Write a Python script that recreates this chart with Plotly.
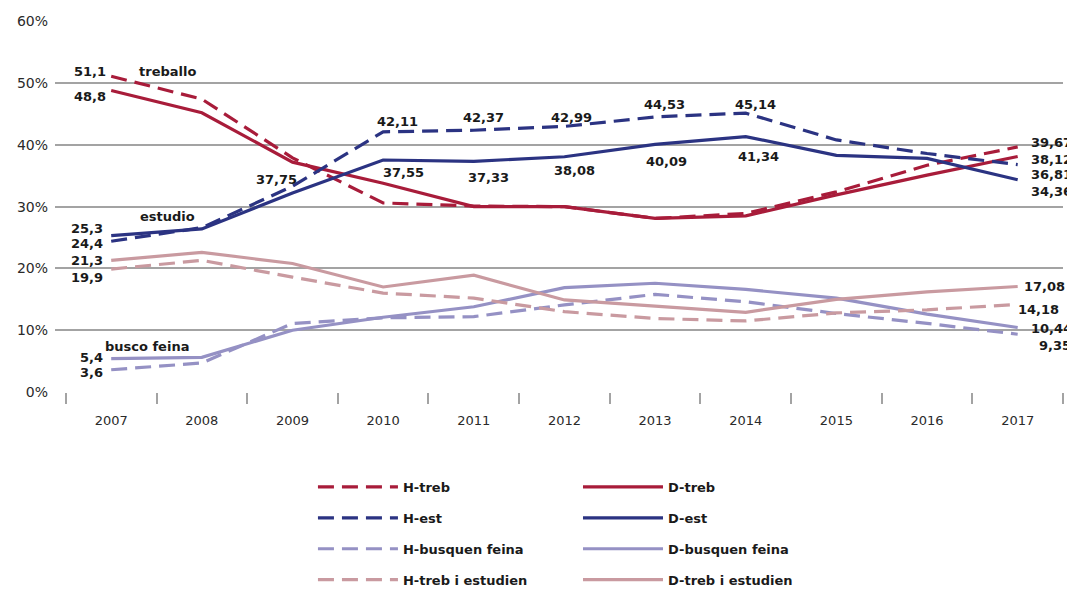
import plotly.graph_objects as go

years = ["2007", "2008", "2009", "2010", "2011", "2012", "2013", "2014", "2015", "2016", "2017"]
h_treb = [51.1, 47.4, 37.9, 30.6, 30.1, 30.0, 28.1, 28.9, 32.4, 36.7, 39.67]
d_treb = [48.8, 45.2, 37.2, 33.8, 30.0, 30.0, 28.1, 28.5, 31.9, 35.1, 38.12]
h_est = [24.4, 26.6, 33.3, 42.11, 42.37, 42.99, 44.53, 45.14, 40.8, 38.6, 36.81]
d_est = [25.3, 26.4, 32.2, 37.55, 37.33, 38.08, 40.09, 41.34, 38.3, 37.8, 34.36]
h_bus = [3.6, 4.7, 11.1, 12.0, 12.2, 14.1, 15.8, 14.6, 12.7, 11.1, 9.35]
d_bus = [5.4, 5.6, 10.0, 12.1, 13.8, 16.9, 17.6, 16.6, 15.2, 12.6, 10.44]
h_te = [19.9, 21.3, 18.6, 16.0, 15.2, 13.0, 11.9, 11.5, 12.8, 13.3, 14.18]
d_te = [21.3, 22.6, 20.8, 17.0, 18.9, 14.9, 13.9, 12.9, 15.0, 16.2, 17.08]
y_ticks = [0, 10, 20, 30, 40, 50, 60]
y_tick_text = ["0%", "10%", "20%", "30%", "40%", "50%", "60%"]

RED = "#a81c3a"
NAVY = "#2b3382"
LAV = "#9591c4"
PINK = "#c99aa0"
DASH = "16px,8px"

xs = list(range(len(years)))

series = [
    ("H-treb", h_treb, RED, DASH, "legend"),
    ("D-treb", d_treb, RED, "solid", "legend2"),
    ("H-est", h_est, NAVY, DASH, "legend"),
    ("D-est", d_est, NAVY, "solid", "legend2"),
    ("H-busquen feina", h_bus, LAV, DASH, "legend"),
    ("D-busquen feina", d_bus, LAV, "solid", "legend2"),
    ("H-treb i estudien", h_te, PINK, DASH, "legend"),
    ("D-treb i estudien", d_te, PINK, "solid", "legend2"),
]

fig = go.Figure()
for name, vals, col, dash, leg in series:
    fig.add_trace(go.Scatter(
        x=xs, y=vals, name=name, mode="lines",
        line=dict(color=col, width=3.2, dash=dash),
        legend=leg, legendgroup=name, hoverinfo="skip",
    ))

def fmt(v):
    return ("%g" % v).replace(".", ",")

LBL = dict(family="DejaVu Sans, sans-serif", size=13, color="#1a1a1a", weight="bold")

# (value source, index, xanchor, xshift, yshift)
labels = [
    (h_treb, 0, "right", -3, 5), (d_treb, 0, "right", -3, -6),
    (d_est, 0, "right", -6, 7.5), (h_est, 0, "right", -6, -2),
    (d_te, 0, "right", -6, 0), (h_te, 0, "right", -6, -8),
    (d_bus, 0, "right", -6, 1.5), (h_bus, 0, "right", -6, -3),
    (h_est, 3, "center", 14, 10.5), (h_est, 4, "center", 10, 13),
    (h_est, 5, "center", 7, 9), (h_est, 6, "center", 9, 12.7),
    (h_est, 7, "center", 10, 9),
    (d_est, 3, "center", 20, -12), (d_est, 4, "center", 15, -16),
    (d_est, 5, "center", 10, -13.5), (d_est, 6, "center", 11, -17),
    (d_est, 7, "center", 13, -20),
    (h_treb, 10, "left", 11, 4), (d_treb, 10, "left", 11, -3),
    (h_est, 10, "left", 11, -9.6), (d_est, 10, "left", 11, -11.4),
    (d_te, 10, "left", 4, 0), (h_te, 10, "left", -2, -5),
    (d_bus, 10, "left", 11, -1), (h_bus, 10, "left", 19, -11),
]
annotations = []
for src, i, xa, xsh, ysh in labels:
    annotations.append(dict(x=xs[i], y=src[i], text=fmt(src[i]), showarrow=False,
                            xanchor=xa, yanchor="middle", xshift=xsh, yshift=ysh, font=LBL))

extra_value = 37.75
annotations.append(dict(x=xs[2], y=extra_value, text=fmt(extra_value), showarrow=False,
                        xanchor="center", yanchor="middle", xshift=-16, yshift=-21, font=LBL))

# category names
cats = [("treballo", h_treb, 26, 5), ("estudio", d_est, 27, 19.6), ("busco feina", d_bus, -8, 12.6)]
for txt, src, xsh, ysh in cats:
    annotations.append(dict(x=xs[0], y=src[0], text=txt, showarrow=False,
                            xanchor="left", yanchor="middle", xshift=xsh, yshift=ysh, font=LBL))

GRID = "#a3a3a3"
TICKF_X = dict(family="DejaVu Sans, sans-serif", size=13, color="#2a2a2a")
TICKF_Y = dict(family="DejaVu Sans, sans-serif", size=14, color="#2a2a2a")
LEGF = dict(family="DejaVu Sans, sans-serif", size=13, color="#1a1a1a", weight="bold")

# page body has an 8px margin, so the figure is 8px smaller than the window
fig.update_layout(
    width=1067, height=581,
    margin=dict(l=47, r=12, t=13, b=197, autoexpand=False),
    paper_bgcolor="white", plot_bgcolor="white",
    showlegend=True,
    annotations=annotations,
    xaxis=dict(
        range=[-0.62, 10.5], tickvals=xs, ticktext=years,
        ticks="", showgrid=False, zeroline=False, showline=False,
        tickfont=TICKF_X, ticklabelstandoff=19,
        minor=dict(tickvals=[i - 0.5 for i in range(len(years) + 1)],
                   ticks="outside", ticklen=11, tickwidth=1.5, tickcolor=GRID, showgrid=False),
    ),
    yaxis=dict(
        range=[0, 60.05], tickvals=y_ticks, ticktext=y_tick_text,
        showgrid=True, gridcolor=GRID, gridwidth=1.6, zeroline=False,
        ticks="", tickfont=TICKF_Y, ticklabelstandoff=6,
    ),
    legend=dict(xref="container", yref="container", x=0.2858, y=0.2014,
                xanchor="left", yanchor="top", orientation="v",
                tracegroupgap=11, font=LEGF, bgcolor="rgba(0,0,0,0)", itemwidth=80),
    legend2=dict(xref="container", yref="container", x=0.5342, y=0.2014,
                 xanchor="left", yanchor="top", orientation="v",
                 tracegroupgap=11, font=LEGF, bgcolor="rgba(0,0,0,0)", itemwidth=80),
)

fig.write_html("out.html")
